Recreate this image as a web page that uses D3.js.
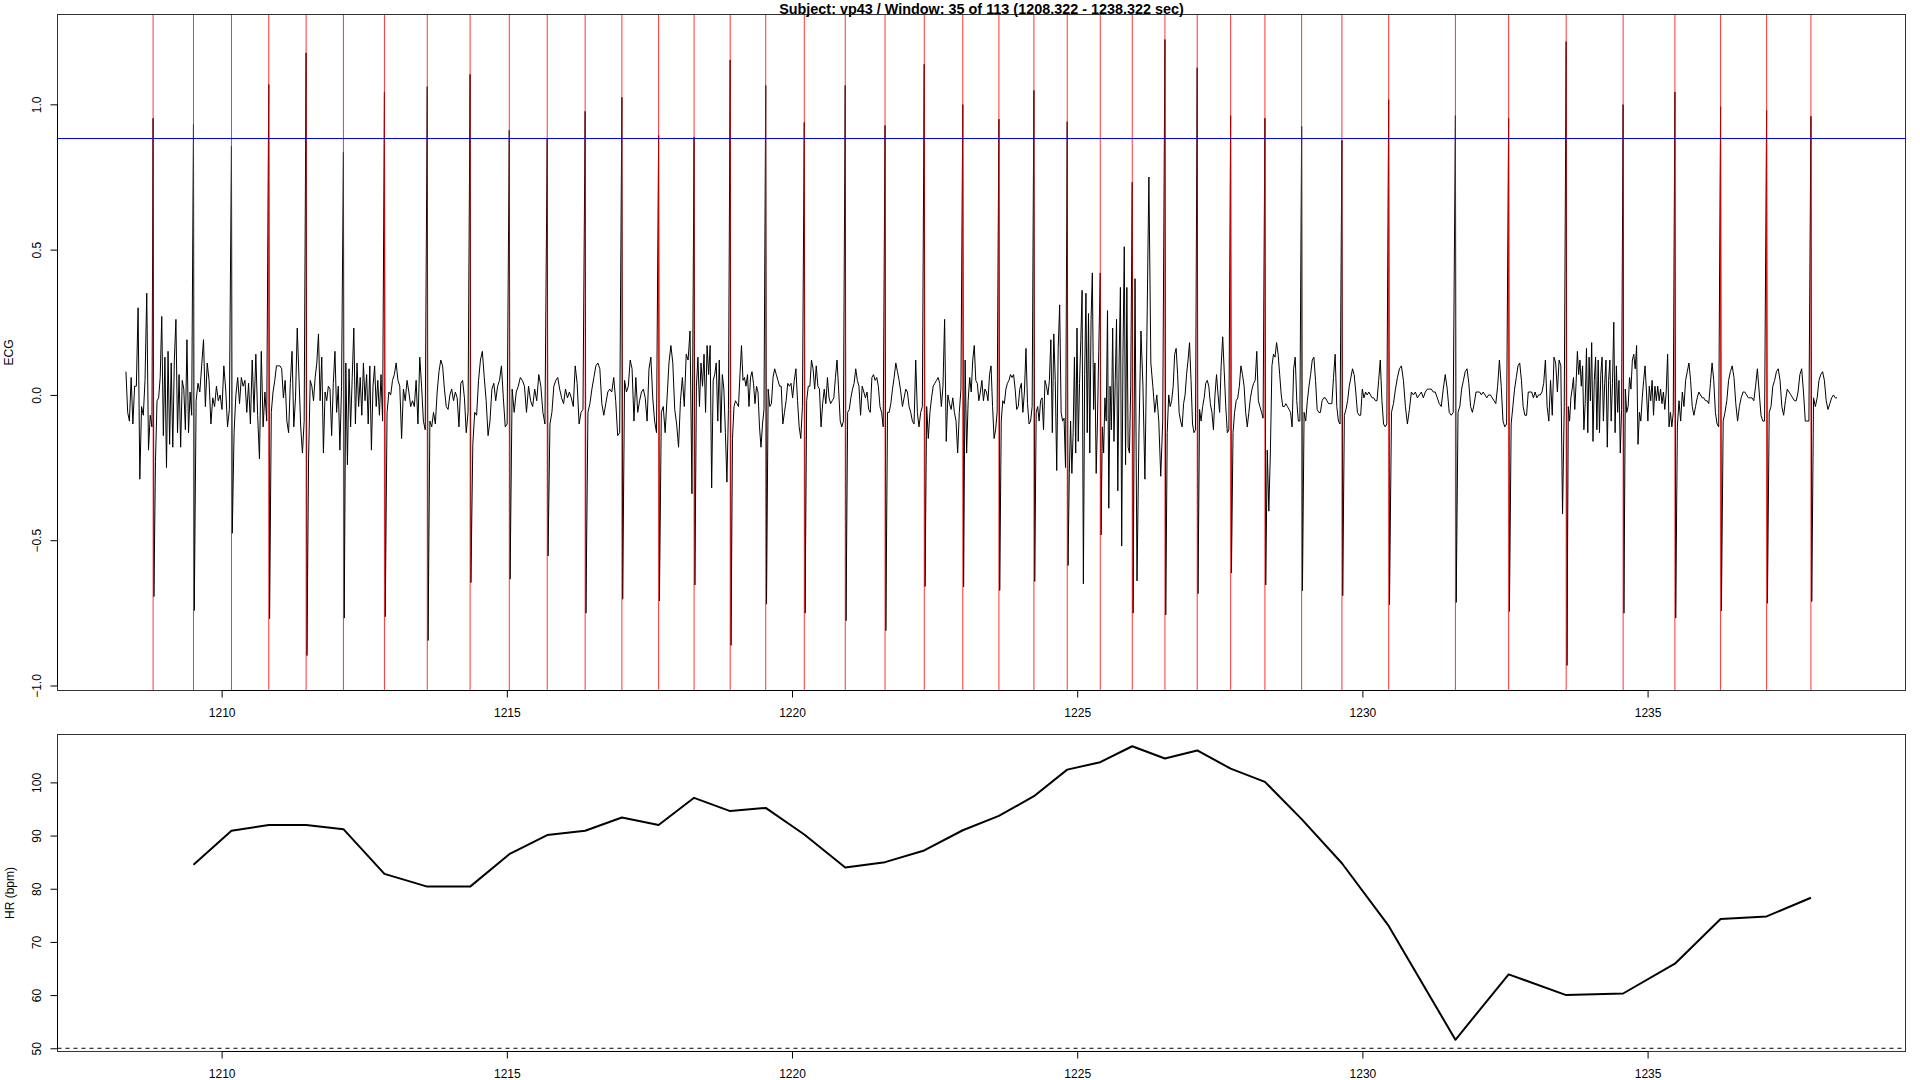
<!DOCTYPE html>
<html><head><meta charset="utf-8">
<script src="https://cdn.jsdelivr.net/npm/d3@7"></script>
<style>
html,body{margin:0;padding:0;background:#fff;}
svg{display:block;}
text{font-family:"Liberation Sans",Arial,Helvetica,sans-serif;fill:#000;}
</style></head><body>
<svg id="chart" width="1920" height="1080"></svg>
<script>
// ---------------- data ----------------
const titleText = "Subject: vp43 / Window: 35 of 113 (1208.322 - 1238.322 sec)";
const winStart = 1208.322, winEnd = 1238.322;
const xTicks = [1210, 1215, 1220, 1225, 1230, 1235];
const ecgTicks = [-1, -0.5, 0, 0.5, 1];
const hrTicks = [50, 60, 70, 80, 90, 100];
const hrRef = 50;
const threshold = 0.8825;

// detected R-peak times (s)
const rTimes = [1208.798,1209.506,1210.172,1210.826,1211.481,1212.135,1212.854,1213.605,1214.356,1215.043,
  1215.708,1216.373,1217.017,1217.661,1218.283,1218.916,1219.539,1220.215,1220.933,1221.631,
  1222.318,1222.994,1223.627,1224.241,1224.825,1225.404,1225.965,1226.538,1227.104,1227.690,
  1228.291,1228.935,1229.641,1230.461,1231.631,1232.564,1233.573,1234.571,1235.479,1236.280,
  1237.087,1237.864];
// R amplitude and following S amplitude (mV)
const rPeak = [0.952,0.931,0.856,1.068,1.177,0.835,1.042,1.061,1.103,0.911,
  0.881,0.976,1.024,0.893,0.887,1.153,1.065,0.938,1.065,0.927,
  1.138,0.999,0.949,1.048,0.940,0.420,0.732,1.223,1.126,0.961,
  0.952,0.924,0.876,1.016,0.961,0.952,1.216,0.999,1.042,0.992,
  0.979,0.959];
const sTrough = [-0.694,-0.742,-0.476,-0.770,-0.897,-0.768,-0.763,-0.845,-0.646,-0.634,
  -0.554,-0.751,-0.703,-0.709,-0.654,-0.862,-0.720,-0.751,-0.777,-0.811,
  -0.659,-0.661,-0.673,-0.642,-0.587,-0.482,-0.751,-0.757,-0.684,-0.613,
  -0.654,-0.674,-0.691,-0.722,-0.714,-0.745,-0.931,-0.751,-0.768,-0.743,
  -0.717,-0.711];
// ECG samples (1/100 mV) read between the beats
const ecgPre = [8,-6,-9,6,-10,3,3,30,-29,-4,-7,5,35,-19,-7,-11];
const ecgBetween = [
  [-23,-2,-1,6,27,-14,13,-25,15,-17,11,-18,12,26,-13,7,-18,5,2,-12,19,-13,1,-7],
  [-2,4,1,10,19,-4,11,5,-10,-1,-4,3,-2,0,-5,10,2,-11,-5],
  [-13,0,6,-3,6,3,5,-6,4,-10,12,-6,14,-7,-22,15,-11,1,-9],
  [-6,1,5,10,10,10,9,-1,5,-9,-13,4,15,-11,-1,23,6,-11,-20,-9],
  [-22,5,3,-2,6,11,21,-2,13,-20,1,-2,3,2,-14,4,15,-6,3,-19,3],
  [11,-24,9,-11,6,23,-10,11,-4,6,-7,11,-2,7,-10,10,-19,3,10,-4,5,-7,7,-9],
  [-6,1,0,5,7,11,5,3,-15,2,-2,5,1,-4,-2,-4,5,-10,13,3,-9,-12],
  [-9,-11,-6,-10,1,8,12,10,2,-4,-5,0,2,-2,1,-1,-11,4,5,-1,-13,-6],
  [-17,-6,-7,5,12,15,6,-2,-14,-9,2,4,-2,3,5,10,-1,-11,-10],
  [2,-6,1,3,6,5,3,-6,3,-2,-4,2,-2,7,3,-6,-10],
  [-10,-6,3,5,6,2,-1,-3,2,-1,1,-1,-4,10,4,-10,-6,-5],
  [-6,-3,2,6,10,11,9,-3,-7,-3,1,2,1,6,-2,-14,-13],
  [5,1,3,12,9,-9,6,-6,-2,1,2,-1,-9,9,13,-1,-9,-13],
  [-6,-4,-13,-1,11,17,11,-5,-10,-18,-2,6,-4,14,12,22,-34],
  [3,13,-4,11,3,14,-6,17,7,17,-32,5,7,11,-9,12,-13,7,2,-13,-30,-5],
  [-15,-4,-2,-3,-4,7,17,5,6,3,7,-4,6,8,4,-3,3,1,-11,-18,-10,-5],
  [2,-4,-3,6,9,7,5,3,3,-10,-6,-2,4,3,4,-1,5,9,-2,-11,-15,-4],
  [-2,3,3,12,9,2,10,3,2,-11,-3,2,-3,6,-1,-3,-2,-1,6,12,2,-9,-11,-9],
  [-6,-5,-1,2,4,9,5,3,-7,3,1,-1,1,-5,-6,6,7,5,6,3,-4,-6,-11],
  [-6,-6,-3,2,6,11,8,5,1,-4,-1,2,1,-4,-6,-9,-10,12,-6,-11,-6,-4],
  [-4,-15,-6,-1,3,4,5,6,4,-4,3,26,-16,0,-3,-5,-1,-6,-9,-20,-6,2],
  [12,-20,-2,6,1,12,17,5,4,-2,1,5,-2,2,1,-2,7,10,-4,-15,-12,-6],
  [-9,-2,-3,2,4,5,7,6,7,2,-5,-4,2,4,-6,1,16,-3,-10,-9,-4],
  [-6,-4,-9,-2,-1,-12,5,3,0,5,19,-13,21,5,-26,16,31,-6,-9,-8,-25],
  [-27,-9,-27,-13,13,-20,23,-16,4,19,36,-65,7,35,-13,28,-20,26,42,-5,11,-27,-9,15],
  [-11,-20,-1,-9,29,-39,3,-12,23,-16,5,26,-33,12,37,-52,14,51,-24,37,-18,-20,3],
  [40,-64,-13,22,3,-29,20,75,11,3,-6,0,-9,-28,-9],
  [-13,0,-4,-2,3,14,16,7,-6,-9,-11,-3,0,7,12,18,5,-10,-13,-12],
  [-5,-9,-4,-1,4,5,3,-3,-6,-12,0,7,0,-6,10,20,8,-4,-13,-12],
  [-13,-6,-2,-1,3,10,7,3,-6,-11,-6,-1,2,4,5,15,-2,-4,-6,-8],
  [-19,-40,-20,10,14,13,18,14,7,0,-4,-4,-3,-4,-5,-6,-11,9,13,-2,-9,-9],
  [-6,-9,-2,3,7,12,13,5,-5,-6,-6,-2,-1,-1,-2,-3,-3,-3,6,14,-4,-9,-10],
  [-7,-5,-2,3,6,9,7,1,-6,-7,-7,2,-1,1,0,1,0,-1,-1,-2,-2,5,12,-2,-10,-11,-10],
  [-6,-3,2,6,9,10,5,-4,-10,-5,1,0,1,-1,0,1,-1,1,2,2,2,1,1,-1,-3,-4,2,7,2,-6,-7,-6],
  [-6,-4,2,5,8,9,4,-4,-6,-3,1,1,1,0,1,0,-1,0,0,-1,-2,-3,3,12,3,-9,-11,-10],
  [-10,-4,2,6,10,11,5,-4,-7,-7,1,1,1,-1,1,-1,0,0,1,4,12,-4,-9,5,-7,13,11,1,12,10,-41,-4],
  [-4,-9,-1,2,6,-5,4,15,7,12,3,10,-12,-3,16,-13,13,-2,18,-16,5,13,-12,12,-13,7,13,-9,4,12,-18,5,12,-9,4,25,-13,10,-6,5,-20,-5],
  [2,-6,-4,6,2,12,14,9,17,-17,-6,-9,-1,5,10,1,-9,3,-2,5,-7,3,-2,3,-2,2,-3,1,-5,1,14,-11,-6,-11,-6],
  [-11,-2,-9,1,-4,5,8,11,5,-4,-7,-4,-1,1,0,-1,-1,-2,-2,-3,4,11,5,-6,-10,-11],
  [-9,-6,-2,5,8,10,6,-3,-9,-4,-1,1,1,0,-1,-1,-1,-2,3,9,1,-7,-9,-9],
  [-6,-4,3,5,8,9,5,-4,-7,-2,2,1,0,-1,-2,-2,1,7,9,1,-9,-9,-9]
];
const ecgPost = [-1,-4,-1,5,7,8,5,-2,-5,-3,-1,0,-1,-1];
// heart rate (bpm) at each beat from the 2nd R-peak on
const hrValues = [84.5,90.9,92.0,92.0,91.2,82.8,80.4,80.4,86.5,90.1,
  90.9,93.4,92.0,97.1,94.6,95.2,90.2,84.0,85.0,87.2,
  91.0,93.7,97.4,102.4,103.8,106.8,104.5,106.0,102.6,100.1,
  93.1,84.8,73.0,51.6,63.9,60.0,60.3,65.9,74.3,74.8,
  78.3];

// ---------------- build series ----------------
const sDelay = 0.014;
const ecgPts = [];
ecgPre.forEach((v, k) => ecgPts.push([winStart + k * (rTimes[0] - 0.02 - winStart) / (ecgPre.length - 1), v / 100]));
rTimes.forEach((r, i) => {
  ecgPts.push([r, rPeak[i]]);
  ecgPts.push([r + sDelay, sTrough[i]]);
  const last = i === rTimes.length - 1;
  const seg = last ? ecgPost : ecgBetween[i];
  const a = r + sDelay, b = last ? winEnd : rTimes[i + 1] - 0.004;
  const n = seg.length + (last ? 0 : 1);
  seg.forEach((v, k) => ecgPts.push([a + (k + 1) * (b - a) / n, v / 100]));
});
const hrPts = hrValues.map((v, i) => [rTimes[i + 1], v]);

// ---------------- layout ----------------
const svg = d3.select("#chart");
svg.append("rect").attr("width", 1920).attr("height", 1080).attr("fill", "#fff");
const L = 57.5, Rt = 1905.5;
const p1 = {top: 14.5, bot: 690.5}, p2 = {top: 734.5, bot: 1051.5};
const padR = ([a, b]) => { const d = (b - a) * 0.04; return [a - d, b + d]; };

const x = d3.scaleLinear().domain(padR([winStart, winEnd])).range([L, Rt]);
const yE = d3.scaleLinear().domain(padR(d3.extent(ecgPts, d => d[1]))).range([p1.bot, p1.top]);
const yH = d3.scaleLinear().domain(padR(d3.extent(hrValues))).range([p2.bot, p2.top]);

const defs = svg.append("defs");
defs.append("clipPath").attr("id", "c1").append("rect").attr("x", L).attr("y", p1.top).attr("width", Rt - L).attr("height", p1.bot - p1.top);
defs.append("clipPath").attr("id", "c2").append("rect").attr("x", L).attr("y", p2.top).attr("width", Rt - L).attr("height", p2.bot - p2.top);

// ---- top panel ----
const g1 = svg.append("g").attr("clip-path", "url(#c1)");
g1.append("path").datum(ecgPts)
  .attr("d", d3.line().x(d => x(d[0])).y(d => yE(d[1])))
  .attr("fill", "none").attr("stroke", "#000").attr("stroke-width", 1).attr("stroke-linejoin", "round");
g1.selectAll("line.rp").data(rTimes).join("line").attr("class", "rp")
  .attr("x1", d => x(d)).attr("x2", d => x(d)).attr("y1", p1.top).attr("y2", p1.bot)
  .attr("stroke", "#ff0000").attr("stroke-opacity", 0.8).attr("stroke-width", 1);
g1.append("line").attr("x1", L).attr("x2", Rt).attr("y1", yE(threshold)).attr("y2", yE(threshold))
  .attr("stroke", "#0000ff").attr("stroke-width", 1.2);

// ---- bottom panel ----
const g2 = svg.append("g").attr("clip-path", "url(#c2)");
g2.append("line").attr("x1", L).attr("x2", Rt).attr("y1", yH(hrRef)).attr("y2", yH(hrRef))
  .attr("stroke", "#000").attr("stroke-width", 1).attr("stroke-dasharray", "4,4");
g2.append("path").datum(hrPts)
  .attr("d", d3.line().x(d => x(d[0])).y(d => yH(d[1])))
  .attr("fill", "none").attr("stroke", "#000").attr("stroke-width", 2).attr("stroke-linejoin", "round");

// ---- boxes ----
[p1, p2].forEach(p => svg.append("rect").attr("x", L).attr("y", p.top).attr("width", Rt - L).attr("height", p.bot - p.top)
  .attr("fill", "none").attr("stroke", "#333").attr("stroke-width", 1));

// ---- axes ----
const FS = 12;
function xAxis(yPos) {
  const g = svg.append("g").attr("transform", `translate(0,${yPos})`)
    .call(d3.axisBottom(x).tickValues(xTicks).tickSize(7).tickPadding(11).tickSizeOuter(0).tickFormat(d3.format("d")));
  g.select(".domain").attr("d", `M${x(xTicks[0])},0H${x(xTicks[xTicks.length - 1])}`).attr("stroke", "#000");
  g.selectAll(".tick line").attr("stroke", "#000");
  g.selectAll("text").attr("font-size", FS).attr("font-family", '"Liberation Sans",Arial,sans-serif').attr("fill", "#000");
}
function yAxis(scale, ticks, fmt) {
  const g = svg.append("g").attr("transform", `translate(${L},0)`)
    .call(d3.axisLeft(scale).tickValues(ticks).tickSize(7).tickSizeOuter(0).tickFormat(fmt));
  g.select(".domain").attr("d", `M0,${scale(ticks[0])}V${scale(ticks[ticks.length - 1])}`).attr("stroke", "#000");
  g.selectAll(".tick line").attr("stroke", "#000");
  g.selectAll("text").attr("x", null).attr("dy", null).attr("y", null)
    .attr("transform", `translate(${41 - L},0) rotate(-90)`)
    .attr("text-anchor", "middle").attr("font-size", FS)
    .attr("font-family", '"Liberation Sans",Arial,sans-serif').attr("fill", "#000");
}
xAxis(p1.bot);
xAxis(p2.bot);
yAxis(yE, ecgTicks, d3.format(".1f"));
yAxis(yH, hrTicks, d3.format("d"));

// ---- labels ----
svg.append("text").attr("x", (L + Rt) / 2).attr("y", 13.5).attr("text-anchor", "middle")
  .attr("font-size", 14.4).attr("font-weight", "bold").text(titleText);
svg.append("text").attr("transform", `translate(13,${(p1.top + p1.bot) / 2}) rotate(-90)`)
  .attr("text-anchor", "middle").attr("font-size", FS).text("ECG");
svg.append("text").attr("transform", `translate(14,${(p2.top + p2.bot) / 2}) rotate(-90)`)
  .attr("text-anchor", "middle").attr("font-size", FS).text("HR (bpm)");
</script>
</body></html>
